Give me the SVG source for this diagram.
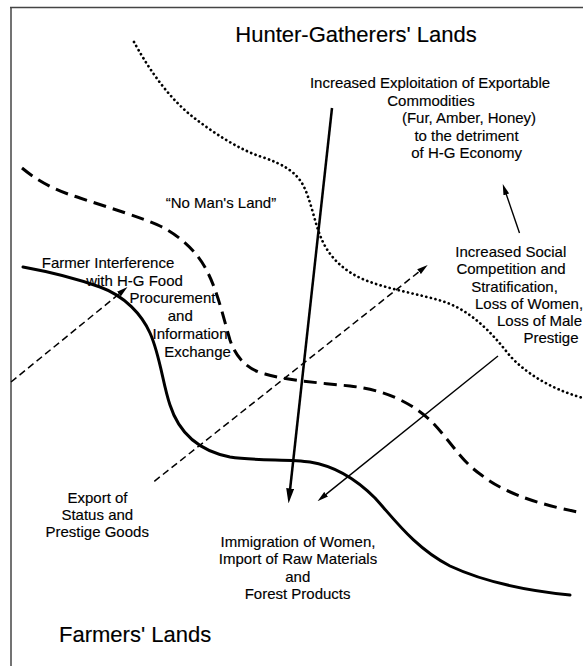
<svg xmlns="http://www.w3.org/2000/svg" width="583" height="666" viewBox="0 0 583 666">
<style>
  text { font-family: "Liberation Sans", Arial, Helvetica, sans-serif; fill: #000; stroke: #000; stroke-width: 0.15; }
  .t { font-size: 15px; text-anchor: middle; }
  .ts { font-size: 15px; text-anchor: start; }
  .big { font-size: 22px; }
  .frame { stroke: #444; stroke-width: 1.5; fill: none; }
  .solid { stroke: #000; stroke-width: 3; fill: none; stroke-linecap: round; }
  .dashb { stroke: #000; stroke-width: 3; fill: none; stroke-dasharray: 13 7; }
  .dots { stroke: #000; stroke-width: 2.7; fill: none; stroke-dasharray: 0.1 4.6; stroke-linecap: round; }
  .thick { stroke: #000; stroke-width: 2.5; fill: none; }
  .thin { stroke: #000; stroke-width: 1.4; fill: none; }
  .dashthin { stroke: #000; stroke-width: 1.5; fill: none; stroke-dasharray: 7 4; }
</style>
<defs>
  <marker id="ahBig" markerUnits="userSpaceOnUse" viewBox="0 0 15 8" refX="7" refY="4" markerWidth="15" markerHeight="8" orient="auto">
    <path d="M0,0 L15,4 L0,8 z" fill="#000"/>
  </marker>
  <marker id="ahSmall" markerUnits="userSpaceOnUse" viewBox="0 0 11 6" refX="5" refY="3" markerWidth="11" markerHeight="6" orient="auto">
    <path d="M0,0 L11,3 L0,6 z" fill="#000"/>
  </marker>
</defs>
<rect width="583" height="666" fill="#fff"/>
<g id="frame">
  <path class="frame" d="M10,7.5 H583"/>
  <path class="frame" d="M11,7 V666" stroke="#666"/>
</g>
<g id="boundaries">
  <path id="hg-boundary" class="dots" d="M134,42 C145,62 165,95 193,117 C215,134 240,150 262,157 C283,164 296,172 303,185 C311,200 315,225 322,240 C330,258 345,272 365,280 C390,290 420,294 445,302 C470,311 490,330 510,356 C525,372 548,388 583,398"/>
  <path id="nomans-boundary" class="dashb" d="M22,168 C40,183 60,192 80,198 C110,208 140,217 160,226 C180,236 198,252 208,273 C218,293 224,320 230,340 C236,358 248,370 265,374 C285,380 320,383 350,386 C385,390 410,402 430,420 C450,440 460,460 480,474 C500,490 530,503 583,513"/>
  <path id="farmer-boundary" class="solid" d="M23,267 C45,271 75,278 100,287 C125,296 142,315 150,333 C160,355 163,385 170,405 C178,430 195,450 230,457 C255,461 290,459 310,462 C335,466 355,478 375,498 C395,520 415,548 450,566 C480,580 520,590 570,595"/>
</g>
<g id="connectors">
  <path class="thick" d="M332,108 L289.4,495.5" marker-end="url(#ahBig)"/>
  <path class="thin" d="M498,356 L322.2,497.4" marker-end="url(#ahSmall)"/>
  <path class="thin" d="M519.5,233 L504.7,189.7" marker-end="url(#ahSmall)"/>
  <path class="dashthin" d="M11,382 L122.8,290.9" marker-end="url(#ahSmall)"/>
  <path class="dashthin" d="M154.3,481.3 L423,268.6" marker-end="url(#ahSmall)"/>
</g>
<g id="hg-lands"><text class="t big" x="356" y="42">Hunter-Gatherers' Lands</text></g>
<g id="farmers-lands"><text class="ts big" x="59" y="641.5">Farmers' Lands</text></g>
<g id="exploitation">
  <text class="t" x="430" y="88">Increased Exploitation of Exportable</text>
  <text class="t" x="431" y="105.5">Commodities</text>
  <text class="t" x="469" y="123">(Fur, Amber, Honey)</text>
  <text class="t" x="466.5" y="140.5">to the detriment</text>
  <text class="t" x="466.7" y="158">of H-G Economy</text>
</g>
<g id="no-mans-land"><text class="t" x="221" y="208">“No Man's Land”</text></g>
<g id="social">
  <text class="t" x="510.8" y="257">Increased Social</text>
  <text class="t" x="511" y="274.3">Competition and</text>
  <text class="t" x="514.5" y="291.7">Stratification,</text>
  <text class="ts" x="475" y="308.8">Loss of Women,</text>
  <text class="ts" x="497" y="326">Loss of Male</text>
  <text class="ts" x="523.5" y="343.3">Prestige</text>
</g>
<g id="interference">
  <text class="t" x="108" y="267.5">Farmer Interference</text>
  <text class="t" x="134.5" y="285.5">with H-G Food</text>
  <text class="t" x="172.5" y="303.3">Procurement</text>
  <text class="t" x="180.3" y="321">and</text>
  <text class="t" x="190" y="339">Information</text>
  <text class="t" x="197.5" y="356.5">Exchange</text>
</g>
<g id="export">
  <text class="t" x="97.5" y="502.8">Export of</text>
  <text class="t" x="97.3" y="520">Status and</text>
  <text class="t" x="97.2" y="537.4">Prestige Goods</text>
</g>
<g id="immigration">
  <text class="t" x="298" y="546.8">Immigration of Women,</text>
  <text class="t" x="298" y="564.2">Import of Raw Materials</text>
  <text class="t" x="297.8" y="581.7">and</text>
  <text class="t" x="297.6" y="599">Forest Products</text>
</g>
</svg>
